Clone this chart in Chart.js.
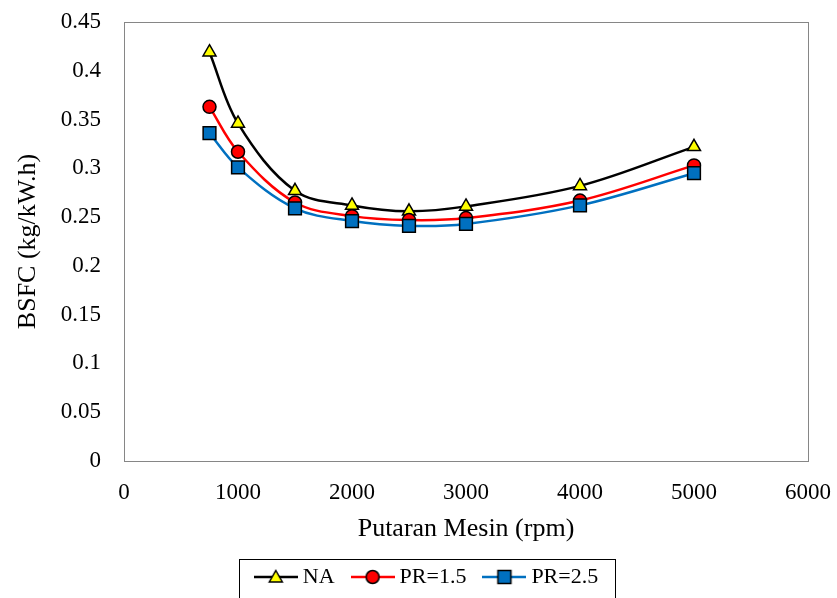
<!DOCTYPE html>
<html>
<head>
<meta charset="utf-8">
<script src="https://cdn.jsdelivr.net/npm/chart.js@4.4.0/dist/chart.umd.min.js"></script>
<style>
  html, body { margin: 0; padding: 0; background: #fff; }
  #wrap { width: 837px; height: 598px; }
</style>
</head>
<body>
<div id="wrap"><canvas id="bsfcChart" width="837" height="598"></canvas></div>
<script>
const rpm = [750, 1000, 1500, 2000, 2500, 3000, 4000, 5000];
const bsfcNA = [0.419, 0.346, 0.277, 0.262, 0.256, 0.261, 0.282, 0.322];
const bsfcPR15 = [0.363, 0.317, 0.265, 0.251, 0.247, 0.249, 0.267, 0.303];
const bsfcPR25 = [0.336, 0.301, 0.259, 0.246, 0.241, 0.243, 0.262, 0.295];
const seriesNames = ["NA", "PR=1.5", "PR=2.5"];

const serif = "'Liberation Serif', 'Times New Roman', serif";

function toXY(ys) {
    return rpm.map((x, i) => ({ x: x, y: ys[i] }));
}

// small legend sample: line segment with the marker sitting on it
function legendIcon(color, shape, fill) {
    const c = document.createElement("canvas");
    c.width = 44;
    c.height = 18;
    const g = c.getContext("2d");
    g.strokeStyle = color;
    g.lineWidth = 2.5;
    g.beginPath();
    g.moveTo(0, 9);
    g.lineTo(44, 9);
    g.stroke();
    g.fillStyle = fill;
    g.strokeStyle = "#000";
    g.lineWidth = 1.5;
    g.beginPath();
    if (shape === "triangle") {
        g.moveTo(22, 2.5);
        g.lineTo(28.5, 14);
        g.lineTo(15.5, 14);
        g.closePath();
    } else if (shape === "circle") {
        g.arc(22, 9, 6.5, 0, Math.PI * 2);
    } else {
        g.rect(15.5, 2.5, 13, 13);
    }
    g.fill();
    g.stroke();
    return c;
}

const icons = [
    legendIcon("#000000", "triangle", "#ffff00"),
    legendIcon("#ff0000", "circle", "#ff0000"),
    legendIcon("#0070c0", "rect", "#0070c0")
];

// invisible tick marks: they only push the labels away from the plot box
const hiddenGrid = (len) => ({
    display: true,
    drawOnChartArea: false,
    drawTicks: true,
    tickLength: len,
    color: "rgba(0,0,0,0)"
});

// box around the plot area
const plotFrame = {
    id: "plotFrame",
    beforeDatasetsDraw(chart) {
        const a = chart.chartArea;
        const ctx = chart.ctx;
        ctx.save();
        ctx.strokeStyle = "#868686";
        ctx.lineWidth = 1;
        ctx.strokeRect(Math.round(a.left) + 0.5, Math.round(a.top) + 0.5,
            Math.round(a.right - a.left), Math.round(a.bottom - a.top));
        ctx.restore();
    }
};

// box around the legend
const legendFrame = {
    id: "legendFrame",
    afterDraw(chart) {
        const hb = chart.legend.legendHitBoxes;
        if (!hb || !hb.length) return;
        const last = hb[hb.length - 1];
        const left = Math.round(hb[0].left - 21) + 0.5;
        const right = Math.round(last.left + last.width + 17) + 0.5;
        const top = Math.round(hb[0].top + hb[0].height / 2 - 18) + 0.5;
        const ctx = chart.ctx;
        ctx.save();
        ctx.strokeStyle = "#000";
        ctx.lineWidth = 1;
        ctx.strokeRect(left, top, right - left, chart.height + 10 - top);
        ctx.restore();
    }
};

const ctx = document.getElementById("bsfcChart").getContext("2d");

new Chart(ctx, {
    type: "line",
    data: {
        datasets: [{
            label: seriesNames[0],
            data: toXY(bsfcNA),
            borderColor: "#000000",
            borderWidth: 2.5,
            pointStyle: "triangle",
            pointRadius: 7.5,
            pointBackgroundColor: "#ffff00",
            pointBorderColor: "#000",
            pointBorderWidth: 1.5,
            order: 3
        }, {
            label: seriesNames[1],
            data: toXY(bsfcPR15),
            borderColor: "#ff0000",
            borderWidth: 2.5,
            pointStyle: "circle",
            pointRadius: 6.5,
            pointBackgroundColor: "#ff0000",
            pointBorderColor: "#000",
            pointBorderWidth: 1.5,
            order: 2
        }, {
            label: seriesNames[2],
            data: toXY(bsfcPR25),
            borderColor: "#0070c0",
            borderWidth: 2.5,
            pointStyle: "rect",
            pointRadius: 9,
            pointBackgroundColor: "#0070c0",
            pointBorderColor: "#000",
            pointBorderWidth: 1.5,
            order: 1
        }]
    },
    options: {
        responsive: false,
        animation: false,
        tension: 0.35,
        cubicInterpolationMode: "default",
        layout: { padding: { left: 21, right: 0, top: 22, bottom: 0 } },
        scales: {
            x: {
                type: "linear",
                min: 0,
                max: 6000,
                grid: hiddenGrid(14),
                border: { display: false },
                afterFit(s) { s.height = 83; },
                ticks: {
                    stepSize: 1000,
                    padding: 4,
                    color: "#000",
                    font: { family: serif, size: 23 },
                    callback: (v) => String(v)
                },
                title: {
                    display: true,
                    text: "Putaran Mesin (rpm)",
                    color: "#000",
                    font: { family: serif, size: 26 },
                    padding: { top: 0, bottom: -1 }
                }
            },
            y: {
                min: 0,
                max: 0.45,
                grid: hiddenGrid(20),
                border: { display: false },
                afterFit(s) { s.width = 103; },
                ticks: {
                    stepSize: 0.05,
                    padding: 3,
                    color: "#000",
                    font: { family: serif, size: 23 },
                    callback: (v) => String(+v.toFixed(2))
                },
                title: {
                    display: true,
                    text: "BSFC (kg/kW.h)",
                    color: "#000",
                    font: { family: serif, size: 26 },
                    padding: { top: -8, bottom: 0 }
                }
            },
            yRight: {
                position: "right",
                min: 0,
                max: 1,
                grid: { display: false, drawTicks: false },
                border: { display: false },
                ticks: { display: false },
                afterFit(s) { s.width = 29; }
            }
        },
        plugins: {
            tooltip: { enabled: false },
            legend: {
                position: "bottom",
                reverse: true,
                labels: {
                    usePointStyle: true,
                    pointStyleWidth: 32,
                    padding: 22,
                    color: "#000",
                    font: { family: serif, size: 22 },
                    generateLabels(chart) {
                        const items = Chart.defaults.plugins.legend.labels.generateLabels(chart);
                        return items.map((it) => {
                            it.pointStyle = icons[it.datasetIndex];
                            return it;
                        });
                    }
                }
            }
        }
    },
    plugins: [plotFrame, legendFrame]
});
</script>
</body>
</html>
